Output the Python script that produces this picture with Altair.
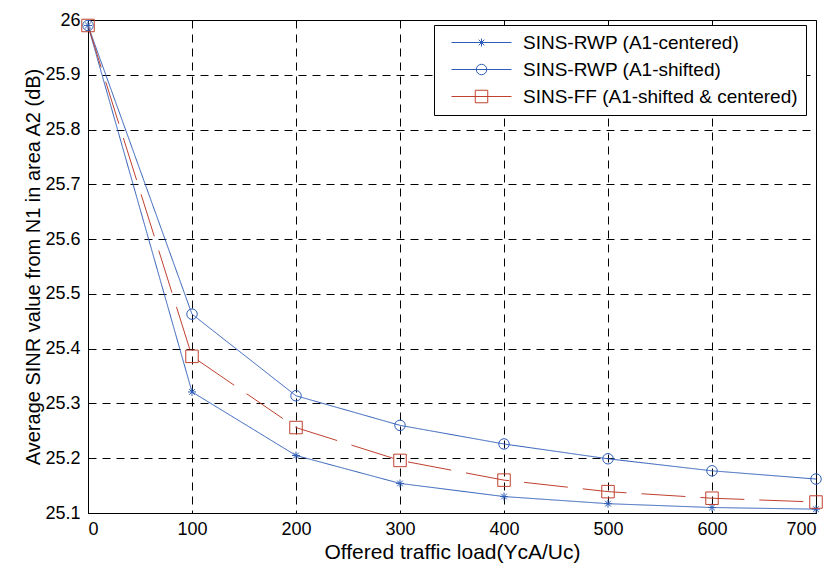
import altair as alt
import pandas as pd

# ---- data ----
x_load = [0, 100, 200, 300, 400, 500, 600, 700]
series_names = [
    "SINS-RWP (A1-centered)",
    "SINS-RWP (A1-shifted)",
    "SINS-FF (A1-shifted & centered)",
]
sinr_rwp_centered = [25.99, 25.321, 25.205, 25.154, 25.130, 25.117, 25.110, 25.107]
sinr_rwp_shifted = [25.99, 25.463, 25.314, 25.260, 25.226, 25.199, 25.177, 25.162]
sinr_ff = [25.99, 25.386, 25.256, 25.196, 25.160, 25.139, 25.127, 25.120]

x_ticks = [0, 100, 200, 300, 400, 500, 600, 700]
y_ticks = [25.1, 25.2, 25.3, 25.4, 25.5, 25.6, 25.7, 25.8, 25.9, 26.0]

# ---- styles ----
BLUE = "#2E5DB8"
RED = "#C0402F"
colors = [BLUE, BLUE, RED]
dashes = [[1, 0], [1, 0], [44, 15]]

# marker paths (size 100 -> 5 px per unit)
point_paths = [
    "M-0.8,0H0.8M0,-0.8V0.8M-0.57,-0.57L0.57,0.57M-0.57,0.57L0.57,-0.57",
    "M-1.05,0A1.05,1.05,0,1,0,1.05,0A1.05,1.05,0,1,0,-1.05,0Z",
    "M-1.25,-1.25H1.25V1.25H-1.25Z",
]
legend_paths = [
    "M0,0H12M5.2,0H6.8M6,-0.8V0.8M5.43,-0.57L6.57,0.57M5.43,0.57L6.57,-0.57",
    "M0,0H12M4.95,0A1.05,1.05,0,1,0,7.05,0A1.05,1.05,0,1,0,4.95,0",
    "M0,0H12M4.75,-1.25H7.25V1.25H4.75Z",
]

rows = []
for name, vals in zip(series_names, [sinr_rwp_centered, sinr_rwp_shifted, sinr_ff]):
    for xv, yv in zip(x_load, vals):
        rows.append({"series": name, "load": xv, "sinr": yv})
df = pd.DataFrame(rows)

FONT = "Liberation Sans"

x_enc = alt.X(
    "load:Q",
    scale=alt.Scale(domain=[0, 700], nice=False, zero=False),
    axis=alt.Axis(values=x_ticks, title="Offered traffic load(YcA/Uc)",
                  labelPadding=7, titlePadding=3, titleFontSize=21),
)
y_enc = alt.Y(
    "sinr:Q",
    scale=alt.Scale(domain=[25.1, 26.0], nice=False, zero=False),
    axis=alt.Axis(values=y_ticks, format="~f",
                  title="Average SINR value from N1 in area A2 (dB)",
                  labelPadding=8, titlePadding=1, titleFontSize=20),
)

color_scale = alt.Scale(domain=series_names, range=colors)

lines = alt.Chart(df).mark_line(strokeWidth=1).encode(
    x=x_enc,
    y=y_enc,
    color=alt.Color("series:N", scale=color_scale, legend=None),
    strokeDash=alt.StrokeDash("series:N", scale=alt.Scale(domain=series_names, range=dashes), legend=None),
)

points = alt.Chart(df).mark_point(filled=False, size=100, strokeWidth=1, opacity=1).encode(
    x=x_enc,
    y=y_enc,
    color=alt.Color("series:N", scale=color_scale, legend=None),
    shape=alt.Shape("series:N", scale=alt.Scale(domain=series_names, range=point_paths), legend=None),
)

leg = alt.Legend(
    title=None,
    orient="none",
    legendX=346,
    legendY=5,
    direction="vertical",
    symbolSize=100,
    symbolStrokeWidth=1,
    labelFont=FONT,
    labelFontSize=19,
    labelColor="black",
    labelOffset=62,
    labelLimit=0,
    strokeColor="black",
    fillColor="white",
    padding=8,
    rowPadding=7,
)

legend_layer = alt.Chart(df).transform_filter("false").mark_point(
    filled=False, size=100, strokeWidth=1, opacity=1
).encode(
    x=x_enc,
    y=y_enc,
    color=alt.Color("series:N", scale=color_scale, legend=leg),
    shape=alt.Shape("series:N", scale=alt.Scale(domain=series_names, range=legend_paths), legend=leg),
)

chart = (
    alt.layer(lines, points, legend_layer)
    .resolve_scale(color="independent", shape="independent", strokeDash="independent")
    .properties(
        width=728,
        height=493,
        autosize=alt.AutoSizeParams(type="none"),
        padding={"left": 80, "top": 12, "right": 10, "bottom": 56},
        background="white",
    )
    .configure_view(stroke="black", strokeWidth=1)
    .configure_axis(
        labelFont=FONT,
        titleFont=FONT,
        labelFontSize=18,
        titleFontWeight="normal",
        labelColor="black",
        titleColor="black",
        domainColor="black",
        gridColor="black",
        gridDash=[8, 6],
        gridOpacity=1,
        gridWidth=1,
        ticks=False,
    )
)

chart.save("out.html", embed_options={"renderer": "svg", "actions": False})
